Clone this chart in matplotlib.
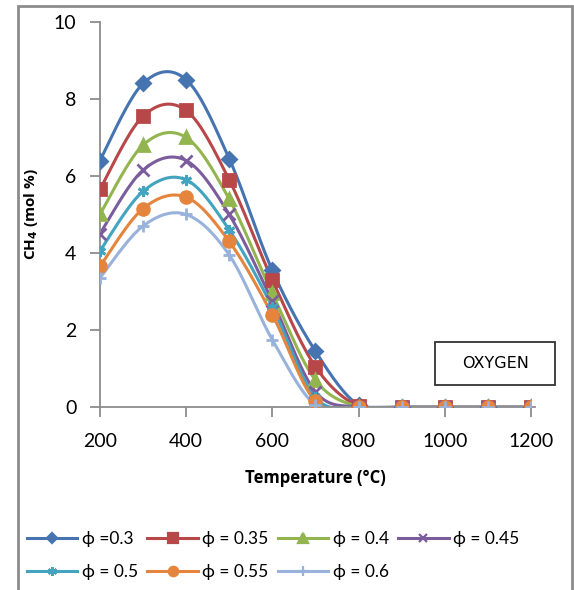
#! /usr/bin/env python3

'''
CH4 mole fraction versus temperature for several equivalence ratios (oxygen).
'''

import numpy as np
import matplotlib
matplotlib.use('Agg')
import matplotlib.pyplot as plt
from matplotlib.patches import Rectangle


temperature = [200, 300, 400, 500, 600, 700, 800, 900, 1000, 1100, 1200]

phi_03 = [6.4, 8.4, 8.5, 6.45, 3.55, 1.45, 0.05, 0, 0, 0, 0]
phi_035 = [5.65, 7.55, 7.7, 5.9, 3.3, 1.05, 0.02, 0, 0, 0, 0]
phi_04 = [5.0, 6.8, 7.0, 5.4, 2.95, 0.7, 0.01, 0, 0, 0, 0]
phi_045 = [4.5, 6.15, 6.4, 5.0, 2.75, 0.4, 0, 0, 0, 0, 0]
phi_05 = [4.05, 5.6, 5.9, 4.6, 2.6, 0.25, 0, 0, 0, 0, 0]
phi_055 = [3.65, 5.15, 5.45, 4.3, 2.4, 0.15, 0, 0, 0, 0, 0]
phi_06 = [3.35, 4.7, 5.0, 3.95, 1.75, 0.05, 0, 0, 0, 0, 0]

labels = ['ϕ =0.3', 'ϕ = 0.35', 'ϕ = 0.4', 'ϕ = 0.45',
          'ϕ = 0.5', 'ϕ = 0.55', 'ϕ = 0.6']
series = [phi_03, phi_035, phi_04, phi_045, phi_05, phi_055, phi_06]
colors = ['#4674B0', '#B8474A', '#93B550', '#7B5C9D',
          '#42A4BF', '#E5843C', '#98B2DC']
markers = ['D', 's', '^', 'x', (6, 2, 0), 'o', '+']
msizes = [7, 8.5, 8.5, 8, 8, 8.5, 9]


def smooth(x, y, n=30):
    '''
    Excel-like smoothed line: cubic Bezier segments, Catmull-Rom controls.
    '''
    x = np.asarray(x, float)
    y = np.asarray(y, float)
    px = np.concatenate([[x[0]], x, [x[-1]]])
    py = np.concatenate([[y[0]], y, [y[-1]]])
    xs, ys = [], []
    t = np.linspace(0, 1, n)
    for i in range(1, len(px) - 2):
        p0 = np.array([px[i], py[i]])
        p3 = np.array([px[i + 1], py[i + 1]])
        p1 = p0 + (np.array([px[i + 1], py[i + 1]])
                   - np.array([px[i - 1], py[i - 1]])) / 6
        p2 = p3 - (np.array([px[i + 2], py[i + 2]])
                   - np.array([px[i], py[i]])) / 6
        b = ((1 - t) ** 3)[:, None] * p0 + (3 * (1 - t) ** 2 * t)[:, None] * p1 \
            + (3 * (1 - t) * t ** 2)[:, None] * p2 + (t ** 3)[:, None] * p3
        xs.extend(b[:, 0])
        ys.extend(b[:, 1])
    return xs, ys


plt.rcParams['font.family'] = ['Lato', 'DejaVu Sans']

fig = plt.figure(figsize=(5.74, 5.90), dpi=100)
ax = fig.add_axes([0.174, 0.310, 0.751, 0.653])

handles = []
for values, label, color, marker, ms in zip(series, labels, colors,
                                            markers, msizes):
    sx, sy = smooth(temperature, values)
    ax.plot(sx, sy, color=color, lw=2.2, solid_capstyle='round', zorder=2)
    ax.plot(temperature, values, ls='none', marker=marker, ms=ms,
            color=color, mec=color, mew=2, zorder=3)
    handles.append(plt.Line2D([], [], color=color, lw=2.2, marker=marker,
                              ms=ms * 0.8, mec=color, mew=1.6, label=label))

ax.set_xlim(200, 1200)
ax.set_ylim(0, 10)
ax.set_xticks(range(200, 1201, 200))
ax.set_yticks(range(0, 11, 2))
for spine in 'right', 'top':
    ax.spines[spine].set_color('none')
for spine in 'left', 'bottom':
    ax.spines[spine].set_color('#8c8c8c')
    ax.spines[spine].set_linewidth(1.3)
ax.spines['bottom'].set_bounds(200, 1210)
ax.tick_params(colors='#8c8c8c', labelcolor='black', labelsize=14,
               length=7, width=1.3, direction='out')
ax.tick_params(axis='y', pad=10)
ax.tick_params(axis='x', pad=12)

ax.set_xlabel('Temperature (°C)', fontweight='bold', fontsize=12,
              family='Open Sans', labelpad=13)
ax.set_ylabel('CH$_\\mathbf{4}$ (mol %)', fontweight='bold', fontsize=11,
              family='Open Sans', labelpad=10)

# label box
ax.add_patch(Rectangle((0.777, 0.057), 0.279, 0.112, transform=ax.transAxes,
                       fc='white', ec='#333333', lw=1.3, clip_on=False,
                       zorder=4))
ax.text(0.917, 0.113, 'OXYGEN', transform=ax.transAxes, ha='center',
        va='center', fontsize=11.5, family='DejaVu Sans', zorder=5)

# row-major order for a 4-column legend
order = [0, 4, 1, 5, 2, 6, 3]
fig.legend(handles=[handles[i] for i in order], ncol=4, loc='upper left',
           bbox_to_anchor=(0.035, 0.112), frameon=False, fontsize=12.5,
           handlelength=2.9, handletextpad=0.25, columnspacing=0.55,
           labelspacing=1.0, borderaxespad=0)

fig.patches.append(Rectangle((18 / 574, -0.01), 554 / 574, 1 - 6 / 590 + 0.01,
                             transform=fig.transFigure, fill=False,
                             ec='#8c8c8c', lw=2))

fig.savefig('out.png', dpi=100)
